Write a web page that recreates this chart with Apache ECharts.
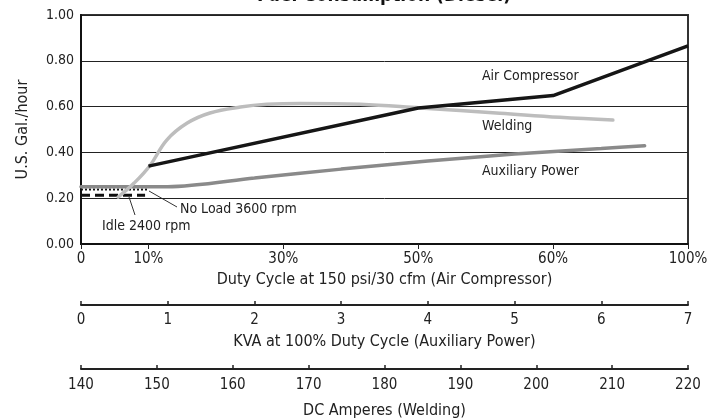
<!DOCTYPE html>
<html>
<head>
<meta charset="utf-8">
<script src="https://cdn.jsdelivr.net/npm/echarts@6/dist/echarts.min.js"></script>
<style>
  html, body { margin: 0; padding: 0; background: #fff; }
  #chart { width: 720px; height: 419px; }
</style>
</head>
<body>
<div id="chart"></div>
<script>
// duty cycle axis is not linear: labels sit at these positions
var dutyTicks = [0, 10, 30, 50, 60, 100]
var dutyPos = [0, 0.5, 1.5, 2.5, 3.5, 4.5]
var dutyLabels = ['0', '10%', '30%', '50%', '60%', '100%']

// Air Compressor (duty cycle %)
var airDuty = [10, 50, 60, 100]
var airFuel = [0.34, 0.594, 0.648, 0.865]

// Auxiliary Power (KVA)
var auxKva = [0, 1, 2, 3, 4, 5, 6, 6.5]
var auxFuel = [0.25, 0.25, 0.288, 0.327, 0.362, 0.393, 0.417, 0.429]

// Welding (DC amperes)
var weldAmps = [144.9, 147.0, 149.1, 151.3, 154.0, 157.0, 161.0, 164.5, 168.9, 176.8, 184.7, 195.2, 203.1, 210.1]
var weldFuel = [0.205, 0.266, 0.343, 0.454, 0.528, 0.572, 0.598, 0.61, 0.614, 0.61, 0.594, 0.571, 0.553, 0.541]

// no load / idle (duty cycle %)
var noLoadDuty = [0, 10]
var noLoadFuel = [0.238, 0.238]
var idleDuty = [0, 9.5]
var idleFuel = [0.213, 0.213]

var FONT = "'Liberation Sans Narrow', 'DejaVu Sans Condensed', sans-serif"

function dutyToPos(d) {
  for (var i = 1; i < dutyTicks.length; i++) {
    if (d <= dutyTicks[i]) {
      var t = (d - dutyTicks[i - 1]) / (dutyTicks[i] - dutyTicks[i - 1])
      return dutyPos[i - 1] + t * (dutyPos[i] - dutyPos[i - 1])
    }
  }
  return dutyPos[dutyPos.length - 1]
}
function zip(xs, ys, f) {
  return xs.map(function (x, i) { return [f ? f(x) : x, ys[i]] })
}

var chart = echarts.init(document.getElementById('chart'))

function bottomAxis(extra) {
  return Object.assign({
    type: 'value',
    position: 'bottom',
    nameLocation: 'middle',
    nameGap: 29,
    nameTextStyle: { color: '#222', fontSize: 16, fontFamily: FONT },
    axisLine: { onZero: false, lineStyle: { color: '#222', width: 2 } },
    axisTick: { inside: true, length: 4, lineStyle: { color: '#222', width: 1.5 } },
    axisLabel: { color: '#222', fontSize: 15, fontFamily: FONT, margin: 8, showMinLabel: true, showMaxLabel: true },
    splitLine: { show: false }
  }, extra)
}

var option = {
  animation: false,
  title: {
    text: 'Fuel Consumption (Diesel)',
    left: 384,
    top: -13,
    padding: 0,
    textAlign: 'center',
    textStyle: { fontSize: 19, fontWeight: 'bold', color: '#111', fontFamily: FONT }
  },
  grid: {
    left: 81, right: 32, top: 15, bottom: 175,
    outerBoundsMode: 'none',
    containLabel: false,
    show: true, borderColor: '#333', borderWidth: 2
  },
  yAxis: {
    type: 'value',
    min: 0, max: 1, interval: 0.2,
    name: 'U.S. Gal./hour',
    nameLocation: 'middle',
    nameGap: 50,
    nameTextStyle: { color: '#222', fontSize: 16, fontFamily: FONT },
    axisLine: { show: true, lineStyle: { color: '#111', width: 2 } },
    axisTick: { show: false },
    axisLabel: { color: '#222', fontSize: 14, fontFamily: FONT, margin: 7, formatter: function (v) { return v.toFixed(2) } },
    splitLine: { lineStyle: { color: '#222', width: 1 } }
  },
  xAxis: [
    bottomAxis({
      min: 0, max: 4.5,
      name: 'Duty Cycle at 150 psi/30 cfm (Air Compressor)',
      nameGap: 28,
      axisLine: { onZero: false, lineStyle: { color: '#111', width: 2 } },
      axisTick: { inside: false, length: 5, customValues: dutyPos, lineStyle: { color: '#222', width: 1 } },
      axisLabel: {
        color: '#222', fontSize: 15, fontFamily: FONT, margin: 8,
        customValues: dutyPos,
        formatter: function (v) {
          for (var i = 0; i < dutyPos.length; i++) {
            if (Math.abs(dutyPos[i] - v) < 1e-6) return dutyLabels[i]
          }
          return ''
        }
      }
    }),
    bottomAxis({
      min: 0, max: 7, interval: 1, offset: 61,
      name: 'KVA at 100% Duty Cycle (Auxiliary Power)'
    }),
    bottomAxis({
      min: 140, max: 220, interval: 10, offset: 125,
      name: 'DC Amperes (Welding)',
      nameGap: 34,
      axisLabel: { color: '#222', fontSize: 15, fontFamily: FONT, margin: 9, showMinLabel: true, showMaxLabel: true }
    })
  ],
  series: [
    {
      name: 'Idle 2400 rpm', type: 'line', xAxisIndex: 0, showSymbol: false, silent: true,
      data: zip(idleDuty, idleFuel, dutyToPos),
      lineStyle: { color: '#111', width: 3, type: [9, 5] }
    },
    {
      name: 'No Load 3600 rpm', type: 'line', xAxisIndex: 0, showSymbol: false, silent: true,
      data: zip(noLoadDuty, noLoadFuel, dutyToPos),
      lineStyle: { color: '#111', width: 2, type: [2, 2] }
    },
    {
      name: 'Auxiliary Power', type: 'line', xAxisIndex: 1, showSymbol: false, smooth: 0.3,
      data: zip(auxKva, auxFuel),
      lineStyle: { color: '#8a8a8a', width: 3.5, cap: 'round' }
    },
    {
      name: 'Welding', type: 'line', xAxisIndex: 2, showSymbol: false, smooth: 0.4,
      data: zip(weldAmps, weldFuel),
      lineStyle: { color: '#bdbdbd', width: 3.5, cap: 'round' }
    },
    {
      name: 'Air Compressor', type: 'line', xAxisIndex: 0, showSymbol: false,
      data: zip(airDuty, airFuel, dutyToPos),
      lineStyle: { color: '#161616', width: 3.5 }
    }
  ],
  graphic: [
    { type: 'text', left: 482, top: 69, style: { text: 'Air Compressor', fill: '#222', font: '14px ' + FONT } },
    { type: 'text', left: 482, top: 119, style: { text: 'Welding', fill: '#222', font: '14px ' + FONT } },
    { type: 'text', left: 482, top: 164, style: { text: 'Auxiliary Power', fill: '#222', font: '14px ' + FONT } },
    { type: 'text', left: 180, top: 202, style: { text: 'No Load 3600 rpm', fill: '#222', font: '14px ' + FONT } },
    { type: 'text', left: 102, top: 219, style: { text: 'Idle 2400 rpm', fill: '#222', font: '14px ' + FONT } },
    { type: 'line', shape: { x1: 149, y1: 191, x2: 177, y2: 207 }, style: { stroke: '#333', lineWidth: 1 } },
    { type: 'line', shape: { x1: 129, y1: 197, x2: 135, y2: 215 }, style: { stroke: '#333', lineWidth: 1 } }
  ]
}

chart.setOption(option)
</script>
</body>
</html>
